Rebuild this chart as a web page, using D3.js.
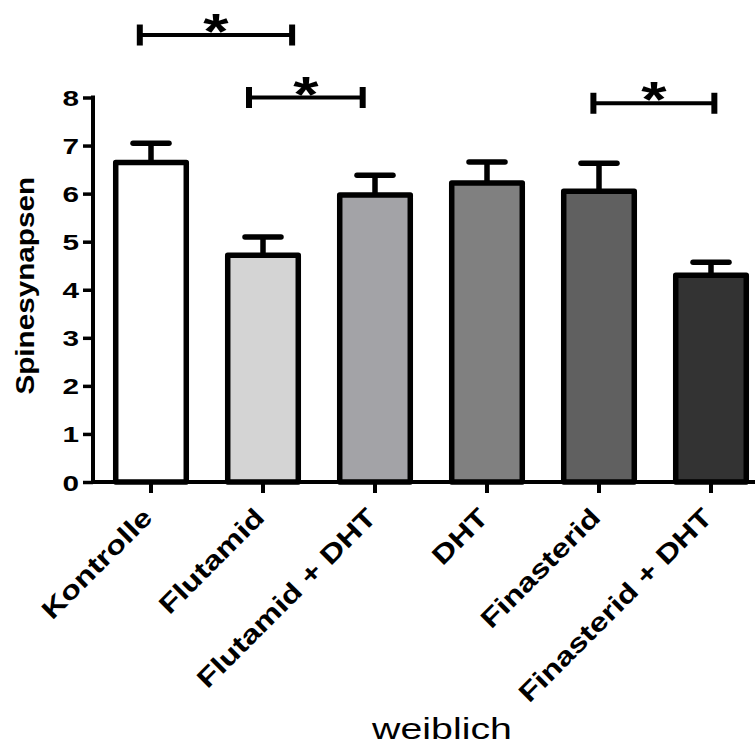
<!DOCTYPE html>
<html>
<head>
<meta charset="utf-8">
<script src="https://cdn.jsdelivr.net/npm/d3@7"></script>
<style>
  html, body { margin: 0; padding: 0; background: #fff; }
  svg { display: block; }
  text { font-family: "Liberation Sans", Arial, sans-serif; }
</style>
</head>
<body>
<svg id="chart" width="755" height="745"></svg>
<script>
// ---- data ----
const categories = ["Kontrolle", "Flutamid", "Flutamid + DHT", "DHT", "Finasterid", "Finasterid + DHT"];
const means = [6.65, 4.72, 5.97, 6.22, 6.05, 4.30];
const sems = [0.40, 0.38, 0.41, 0.44, 0.58, 0.27];
const fills = ["#ffffff", "#d4d4d4", "#a3a3a7", "#808080", "#606060", "#333333"];
const yTicks = [0, 1, 2, 3, 4, 5, 6, 7, 8];
const yLabel = "Spinesynapsen";
const xTitle = "weiblich";
// significance brackets (category-index units, value units)
const sigFrom = [-0.1, 0.875, 3.95];
const sigTo = [1.26, 1.89, 5.03];
const sigLevel = [9.3, 8.0, 7.88];
const sigText = ["*", "*", "*"];

// ---- layout ----
const svg = d3.select("#chart");
const x = d3.scaleBand().domain(categories).range([95, 767]).paddingInner(0.37).paddingOuter(0.185);
const y = d3.scaleLinear().domain([0, 8]).range([482, 97.5]);
const xi = d3.scaleLinear().domain([0, categories.length - 1])
  .range([x(categories[0]) + x.bandwidth() / 2, x(categories[categories.length - 1]) + x.bandwidth() / 2]);

// bars
svg.append("g").selectAll("rect").data(categories).join("rect")
  .attr("x", d => x(d))
  .attr("y", (d, i) => y(means[i]))
  .attr("width", x.bandwidth())
  .attr("height", (d, i) => y(0) - y(means[i]))
  .attr("fill", (d, i) => fills[i])
  .attr("stroke", "#000")
  .attr("stroke-width", 5.5)
  .attr("stroke-linejoin", "round");

// error bars
const eb = svg.append("g").attr("stroke", "#000").attr("stroke-width", 5.5).attr("stroke-linecap", "round");
categories.forEach((c, i) => {
  const cx = x(c) + x.bandwidth() / 2;
  eb.append("line").attr("x1", cx).attr("x2", cx).attr("y1", y(means[i])).attr("y2", y(means[i] + sems[i])).attr("stroke-linecap", "butt");
  eb.append("line").attr("x1", cx - 18).attr("x2", cx + 18).attr("y1", y(means[i] + sems[i])).attr("y2", y(means[i] + sems[i]));
});

// y axis
const yAxis = svg.append("g").attr("transform", "translate(93,0)")
  .call(d3.axisLeft(y).tickValues(yTicks).tickSize(10).tickSizeOuter(0).tickPadding(5));
yAxis.select(".domain").attr("stroke", "#000").attr("stroke-width", 4).attr("d", `M0,${y(8) - 2}V${y(0) + 2}`);
yAxis.selectAll(".tick line").attr("stroke", "#000").attr("stroke-width", 3.5);
yAxis.selectAll(".tick text")
  .attr("font-family", "Liberation Sans, Arial, sans-serif")
  .attr("font-size", 22).attr("font-weight", "bold").attr("fill", "#000")
  .attr("x", 0).attr("dy", null).attr("y", 0)
  .attr("transform", "translate(-14,8) scale(1.35,1)");

// x axis
const xAxis = svg.append("g").attr("transform", `translate(0,${y(0)})`)
  .call(d3.axisBottom(x).tickSize(11).tickSizeOuter(0).tickFormat(""));
xAxis.select(".domain").attr("stroke", "#000").attr("stroke-width", 4).attr("d", "M91,0H767");
xAxis.selectAll(".tick line").attr("stroke", "#000").attr("stroke-width", 4);

// x labels rotated
svg.append("g").selectAll("text").data(categories).join("text")
  .attr("transform", d => `translate(${x(d) + x.bandwidth() / 2 + 3},519) rotate(-45) scale(1.26,1)`)
  .attr("text-anchor", "end")
  .attr("font-size", 26).attr("font-weight", "bold").attr("fill", "#000")
  .text(d => d);

// y label
svg.append("text")
  .attr("transform", `translate(34,${(y(0) + y(8)) / 2 - 4}) rotate(-90) scale(1.12,1)`)
  .attr("text-anchor", "middle")
  .attr("font-size", 26.5).attr("font-weight", "bold").attr("fill", "#000")
  .text(yLabel);

// x title
svg.append("text")
  .attr("transform", "translate(442,739) scale(1.31,1)")
  .attr("text-anchor", "middle")
  .attr("font-size", 30).attr("fill", "#000")
  .text(xTitle);

// significance brackets
const sg = svg.append("g");
sigFrom.forEach((f, i) => {
  const x1 = xi(f), x2 = xi(sigTo[i]), yy = y(sigLevel[i]);
  sg.append("line").attr("x1", x1).attr("x2", x2).attr("y1", yy).attr("y2", yy)
    .attr("stroke", "#000").attr("stroke-width", 4);
  [x1, x2].forEach(xx => {
    sg.append("line").attr("x1", xx).attr("x2", xx).attr("y1", yy - 10.5).attr("y2", yy + 10.5)
      .attr("stroke", "#000").attr("stroke-width", 6);
  });
  sg.append("text")
    .attr("transform", `translate(${(x1 + x2) / 2},${yy + 14}) scale(1.3,1)`)
    .attr("text-anchor", "middle")
    .attr("font-size", 50).attr("font-weight", "bold").attr("fill", "#000")
    .text(sigText[i]);
});
</script>
</body>
</html>
